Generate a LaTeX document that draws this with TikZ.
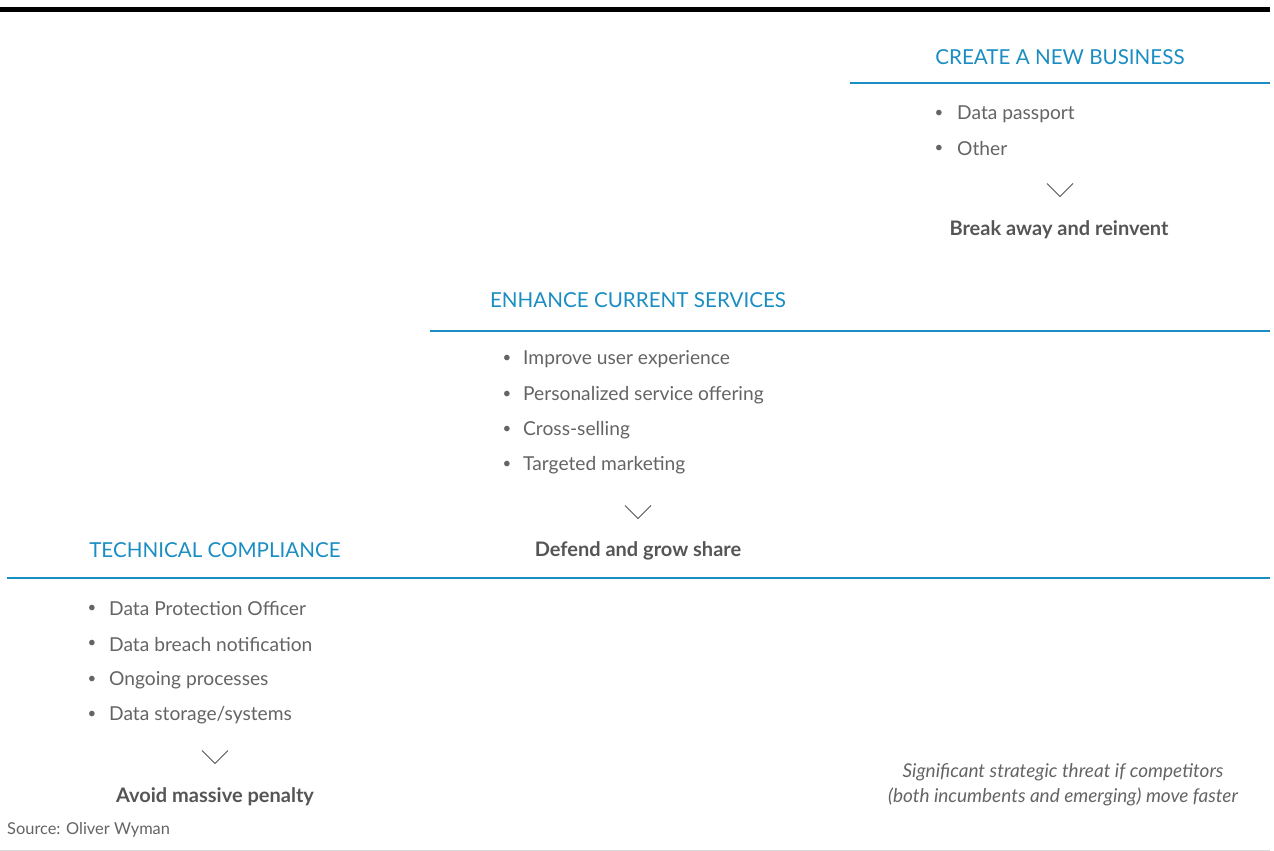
\documentclass[tikz,border=0pt]{standalone}
\usepackage{fontspec}
\setmainfont{Lato}
\definecolor{owblue}{HTML}{1A8DC2}
\definecolor{owgray}{HTML}{646464}
\definecolor{owdark}{HTML}{555555}
\definecolor{owline}{HTML}{D8D8D8}
\begin{document}
\begin{tikzpicture}[x=1pt,y=-1pt,
  head/.style={text=owblue,font=\fontsize{20.6}{24}\selectfont,inner sep=0pt,anchor=center},
  item/.style={text=owgray,font=\fontsize{19.2}{22}\selectfont,inner sep=0pt,anchor=west},
  dot/.style={text=owgray,font=\fontsize{15}{18}\selectfont,inner sep=0pt,anchor=center},
  result/.style={text=owdark,font=\bfseries\fontsize{20}{24}\selectfont,inner sep=0pt,anchor=center},
  rule/.style={draw=owblue,line width=2pt},
  chev/.style={draw=owdark,line width=1pt}]
\useasboundingbox (0,0) rectangle (1274,851);
\draw[line width=5pt,black] (0,10) -- (1270,10);
\draw[owline,line width=1pt] (0,850) -- (1270,850);
% Create a new business
\node[head] (h1) at (1060,57) {CREATE A NEW BUSINESS};
\draw[rule] (850,83) -- (1270,83);
\node[dot] (b11) at (939,114) {•};
\node[item] (i11) at (957,114) {Data passport};
\node[dot] (b12) at (939,149) {•};
\node[item] (i12) at (957,149) {Other};
\coordinate (c1) at (1060,190);
\draw[chev] ([xshift=-13pt,yshift=6.5pt]c1) -- ([yshift=-6.5pt]c1) -- ([xshift=13pt,yshift=6.5pt]c1);
\node[result] (r1) at (1059,230) {Break away and reinvent};
% Enhance current services
\node[head] (h2) at (638,300) {ENHANCE CURRENT SERVICES};
\draw[rule] (430,331) -- (1270,331);
\foreach \t/\y [count=\i] in {Improve user experience/359,Personalized service offering/395,Cross-selling/430,Targeted marketing/465}{
  \node[dot] (b2\i) at (507,\y) {•};
  \node[item] (i2\i) at (523,\y) {\t};
}
\coordinate (c2) at (638,512);
\draw[chev] ([xshift=-13pt,yshift=6.5pt]c2) -- ([yshift=-6.5pt]c2) -- ([xshift=13pt,yshift=6.5pt]c2);
\node[result] (r2) at (638,551) {Defend and grow share};
% Technical compliance
\node[head] (h3) at (215,550) {TECHNICAL COMPLIANCE};
\draw[rule] (7,578) -- (1270,578);
\foreach \t/\y [count=\i] in {{Data Protection Officer}/609,{Data breach notification}/644,{Ongoing processes}/680,{Data storage/systems}/715}{
  \node[dot] (b3\i) at (92,\y) {•};
  \node[item] (i3\i) at (109,\y) {\t};
}
\coordinate (c3) at (215,757);
\draw[chev] ([xshift=-13pt,yshift=6.5pt]c3) -- ([yshift=-6.5pt]c3) -- ([xshift=13pt,yshift=6.5pt]c3);
\node[result] (r3) at (215,797) {Avoid massive penalty};
% notes
\node[text=owgray,font=\itshape\fontsize{19}{25}\selectfont,align=center,inner sep=0pt] (note) at (1063,785) {Significant strategic threat if competitors\\(both incumbents and emerging) move faster};
\node[text=owgray,font=\fontsize{16.4}{20}\selectfont,inner sep=0pt,anchor=west] (src) at (7,830) {Source: Oliver Wyman};
\end{tikzpicture}
\end{document}
